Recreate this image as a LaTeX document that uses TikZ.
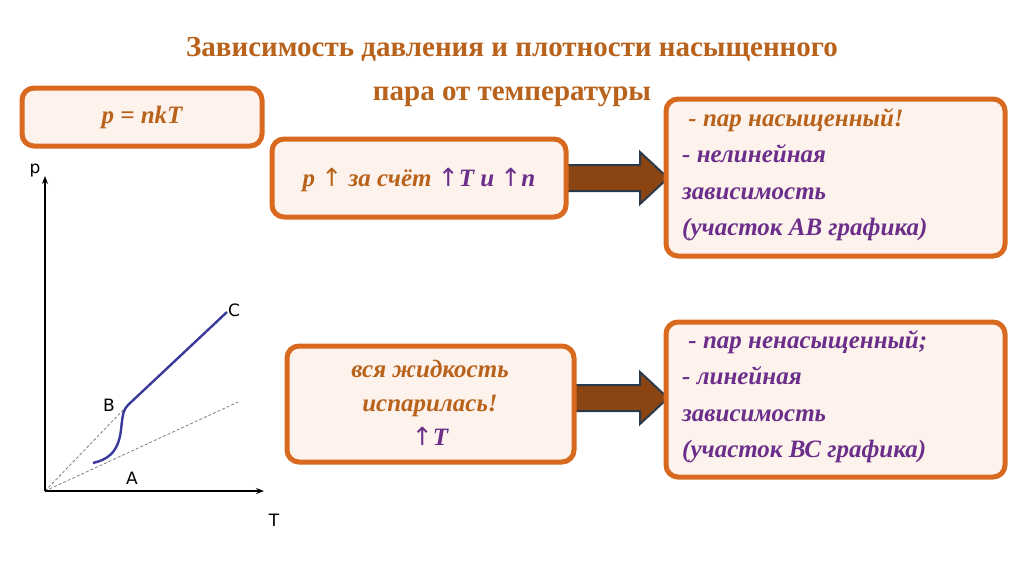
\documentclass[tikz,border=0pt]{standalone}
\usepackage{fontspec}
\setmainfont{Liberation Serif}
\newfontfamily\sansf{DejaVu Sans}
\usetikzlibrary{arrows.meta}
\definecolor{obr}{HTML}{D9691E}
\definecolor{otx}{HTML}{B8621B}
\definecolor{ptx}{HTML}{6B2E8A}
\definecolor{fillc}{HTML}{FDF3EC}
\definecolor{arr}{HTML}{8B4513}
\definecolor{arrb}{HTML}{2A3A4A}
\definecolor{crv}{HTML}{3A3A9A}
\begin{document}
\begin{tikzpicture}[x=1pt,y=-1pt,
  bx/.style={draw=obr,line width=5pt,fill=fillc,rounded corners=12pt},
  bt/.style={font=\fontsize{25}{36.5}\selectfont\bfseries\itshape},
  bigarrow/.style={draw=arrb,line width=2pt,fill=arr},
  dsh/.style={gray,densely dashed,line width=0.8pt},
  lbl/.style={font=\sansf\fontsize{17}{17}\selectfont}]
\useasboundingbox (0,0) rectangle (1024,574);
\fill[white] (0,0) rectangle (1024,574);
\node[font=\fontsize{29}{44}\selectfont\bfseries,text=otx,align=center] (title) at (512,72) {Зависимость давления и плотности насыщенного\\пара от температуры};
\draw[bx] (22,88) rectangle (262,146);
\node[bt,text=otx] (f) at (142,117) {p = nkT};
\draw[bigarrow] (560,165) -- (640,165) -- (640,152) -- (668,178) -- (640,204) -- (640,191) -- (560,191) -- cycle;
\draw[bigarrow] (570,385) -- (640,385) -- (640,372) -- (668,398) -- (640,424) -- (640,411) -- (570,411) -- cycle;
\draw[bx] (272,139) rectangle (566,217);
\node[bt] (t1) at (419,180) {\textcolor{otx}{p {\sansf\mdseries\upshape↑} за счёт }\textcolor{ptx}{{\sansf\mdseries\upshape↑}T и {\sansf\mdseries\upshape↑}n}};
\draw[bx] (666,99) rectangle (1005,256);
\node[bt,align=left,anchor=north west,inner sep=0pt] (t2) at (682,108) {\textcolor{otx}{\ - пар насыщенный!}\\\textcolor{ptx}{- нелинейная}\\\textcolor{ptx}{зависимость}\\\textcolor{ptx}{(участок АВ графика)}};
\draw[bx] (287,346) rectangle (574,462);
\node[bt,align=center,font=\fontsize{25}{34}\selectfont\bfseries\itshape] (t3) at (430,403) {\textcolor{otx}{вся жидкость}\\\textcolor{otx}{испарилась!}\\\textcolor{ptx}{{\sansf\mdseries\upshape↑}T}};
\draw[bx] (666,322) rectangle (1005,477);
\node[bt,align=left,anchor=north west,text=ptx,inner sep=0pt] (t4) at (682,330) {\ - пар ненасыщенный;\\- линейная\\зависимость\\(участок ВС графика)};
% graph
\coordinate (O) at (45,491);
\coordinate (Py) at (45,176);
\coordinate (Tx) at (264,491);
\coordinate (A) at (93,463);
\coordinate (B) at (128,405);
\coordinate (C) at (227,312);
\draw[dsh] (O) -- (B);
\draw[dsh] (O) -- (238,402);
\draw[line width=1.3pt,-{Stealth[length=8pt,width=6pt]}] (O) -- (Py);
\draw[line width=1.3pt,-{Stealth[length=8pt,width=6pt]}] (O) -- (Tx);
\draw[crv,line width=2.4pt] (A) .. controls (105,460) and (118,455) .. (121,430) .. controls (123,410) and (124,410) .. (B) -- (C);
\node[lbl] (lp) at (35,171) {p};
\node[lbl] (lT) at (274,520) {T};
\node[lbl] (lA) at (132,478) {A};
\node[lbl] (lB) at (109,405) {B};
\node[lbl] (lC) at (234,310) {C};
\end{tikzpicture}
\end{document}
